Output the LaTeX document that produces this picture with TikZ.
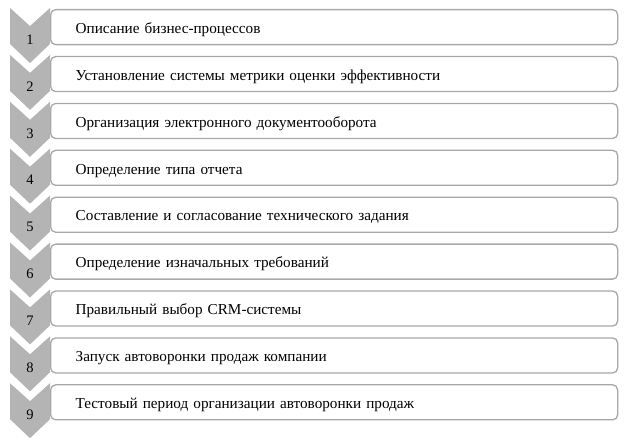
\documentclass[tikz,border=0pt]{standalone}
\usepackage{fontspec}
\setmainfont{Liberation Serif}
\definecolor{chev}{RGB}{180,180,180}
\definecolor{boxline}{RGB}{168,168,168}
\tikzset{
  stepitem/.style={draw=boxline, line width=1.3pt, rounded corners=5pt, fill=white,
    anchor=north west, minimum width=567pt, minimum height=35pt,
    text width=517pt, align=left, inner xsep=25pt, inner ysep=0pt,
    text height=12.5pt, text depth=0pt,
    font=\fontsize{15.2}{17}\selectfont},
  chevshape/.style={fill=chev, draw=none},
  numlabel/.style={font=\fontsize{14.5}{16}\selectfont, inner sep=0pt}
}
\begin{document}
\begin{tikzpicture}[x=1pt,y=-1pt]
\useasboundingbox (0,0) rectangle (624,443);
\foreach \i/\t in {1/Описание бизнес-процессов,
  2/Установление системы метрики оценки эффективности,
  3/Организация электронного документооборота,
  4/Определение типа отчета,
  5/Составление и согласование технического задания,
  6/Определение изначальных требований,
  7/Правильный выбор CRM-системы,
  8/Запуск автоворонки продаж компании,
  9/Тестовый период организации автоворонки продаж}{
  \pgfmathsetmacro{\T}{8+46.9*(\i-1)}
  \node[stepitem] (box\i) at (50,\T+1) {\t};
  \fill[chevshape] (10,\T) -- (30,\T+18) -- (50,\T) -- (50,\T+36) -- (30,\T+55) -- (10,\T+36) -- cycle;
  \node[numlabel] (num\i) at (30,\T+31.5) {\i};
}
\end{tikzpicture}
\end{document}
